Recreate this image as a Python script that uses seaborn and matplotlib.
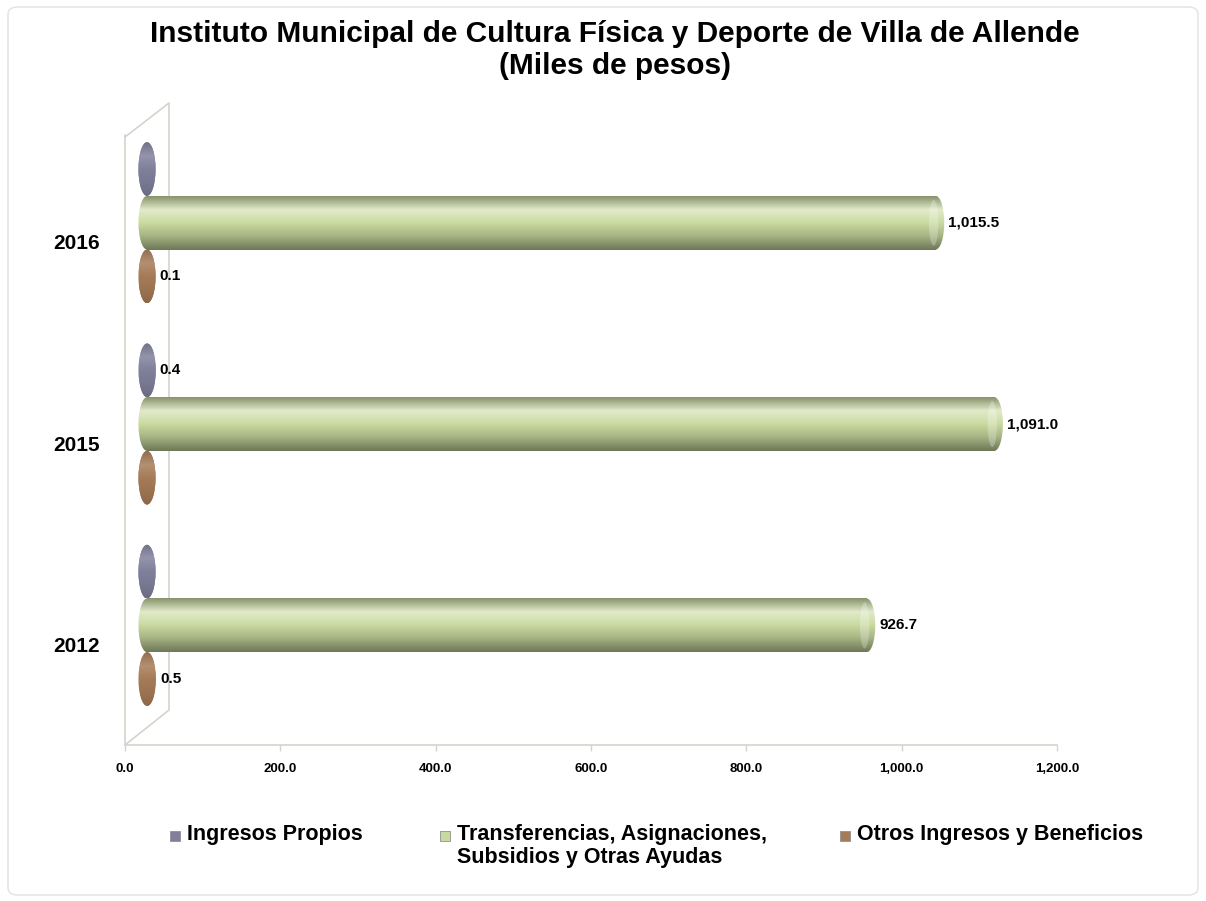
import numpy as np
import pandas as pd
import matplotlib
matplotlib.use('Agg')
import matplotlib.pyplot as plt
import seaborn as sns
from matplotlib.patches import Ellipse, Rectangle, FancyBboxPatch
from matplotlib.lines import Line2D
from matplotlib.colors import LinearSegmentedColormap, to_rgb

# Data
years = ['2016', '2015', '2012']
series = ['Ingresos Propios',
          'Transferencias, Asignaciones,\nSubsidios y Otras Ayudas',
          'Otros Ingresos y Beneficios']
ingresos_propios = [0.0, 0.4, 0.0]
transferencias = [1015.5, 1091.0, 926.7]
otros_ingresos = [0.1, 0.0, 0.5]
x_ticks = [0, 200, 400, 600, 800, 1000, 1200]
title = 'Instituto Municipal de Cultura Física y Deporte de Villa de Allende\n(Miles de pesos)'

colors = ['#80809c', '#c9da9f', '#a67b57']

W, H = 1206, 901
PX_PER_UNIT = 932 / 1200


def fx(px):
    return px / W


def fy(py):
    return 1 - py / H


def shade_cmap(color, strength=1.0):
    c = np.array(to_rgb(color))
    light = np.clip(c + (1 - c) * 0.45 * strength, 0, 1)
    d1 = c * (1 - 0.32 * strength)
    d2 = c * (1 - 0.18 * strength)
    d3 = c * (1 - 0.45 * strength)
    return LinearSegmentedColormap.from_list('cyl', [d1, light, c, d2, d3])


def build_frame():
    rows = []
    for name, vals in zip(series, [ingresos_propios, transferencias, otros_ingresos]):
        for yr, v in zip(years, vals):
            rows.append({'year': yr, 'serie': name, 'valor': v})
    return pd.DataFrame(rows)


def draw_cylinders(ax, df):
    sns.barplot(data=df, y='year', x='valor', hue='serie', order=years,
                hue_order=series, palette=colors, orient='h', width=0.8,
                saturation=1, legend=False, ax=ax)
    grad = np.linspace(0, 1, 64).reshape(-1, 1)
    cw = 22  # cap width in data units
    for container, color, vals in zip(ax.containers, colors,
                                      [ingresos_propios, transferencias, otros_ingresos]):
        strength = 1.0 if max(vals) > 10 else 0.35
        cmap = shade_cmap(color, strength)
        for bar, v in zip(container, vals):
            x0, y0 = bar.get_x(), bar.get_y()
            w, h = bar.get_width(), bar.get_height()
            bar.set_visible(False)
            if w > 1:
                ax.imshow(grad, cmap=cmap, aspect='auto', zorder=2,
                          extent=(x0, x0 + w, y0 + h, y0), interpolation='bilinear')
            for xc in (x0, x0 + w):
                ell = Ellipse((xc, y0 + h / 2), cw, h, facecolor='none',
                              edgecolor='none')
                ax.add_patch(ell)
                im = ax.imshow(grad, cmap=cmap, aspect='auto', zorder=3,
                               extent=(xc - cw / 2, xc + cw / 2, y0 + h, y0),
                               interpolation='bilinear')
                im.set_clip_path(ell)
            if w > 1:
                face = Ellipse((x0 + w - cw * 0.12, y0 + h / 2), cw * 0.55, h * 0.86,
                               facecolor='white', alpha=0.25, edgecolor='none', zorder=4)
                ax.add_patch(face)
            if v > 0:
                ax.annotate(f'{v:,.1f}', xy=(x0 + w, y0 + h / 2), xytext=(9, 0),
                            textcoords='offset points', va='center', ha='left',
                            fontsize=11, fontweight='bold', zorder=5)


def main():
    sns.set_style('white')
    plt.rcParams['font.family'] = ['Liberation Sans', 'DejaVu Sans']
    plt.rcParams['text.color'] = 'black'
    plt.rcParams['xtick.color'] = 'black'
    plt.rcParams['ytick.color'] = 'black'

    df = build_frame()
    fig = plt.figure(figsize=(W / 100, H / 100), dpi=100)
    fig.patch.set_facecolor('white')

    # front axes: ticks and frame; back axes: bars shifted for depth
    ax1 = fig.add_axes([fx(125), fy(745), fx(932), 610 / H])
    x_pad = 20
    ax2 = fig.add_axes([fx(147 - x_pad * PX_PER_UNIT), fy(726),
                        fx(932 + x_pad * PX_PER_UNIT), 610 / H])
    ax1.set_xlim(0, 1200)
    ax2.set_xlim(-x_pad, 1200)
    for ax in (ax1, ax2):
        ax.set_facecolor('none')

    draw_cylinders(ax2, df)
    ax2.set_xlim(-x_pad, 1200)
    for ax in (ax1, ax2):
        ax.set_ylim(2.5, -0.53)
    ax2.axis('off')

    ax1.set_xticks(x_ticks)
    ax1.set_xticklabels([f'{t:,.1f}' for t in x_ticks], fontsize=9.5, fontweight='bold')
    ax1.set_yticks(range(len(years)))
    ax1.set_yticklabels(years, fontsize=15, fontweight='bold')
    ax1.tick_params(axis='x', length=4, width=1, color='#d4d4d4', pad=9, bottom=True)
    ax1.tick_params(axis='y', length=0, pad=18)
    for side in ('top', 'right'):
        ax1.spines[side].set_visible(False)
    for side in ('left', 'bottom'):
        ax1.spines[side].set_color('#d4d4cc')
        ax1.spines[side].set_linewidth(1.2)
    ax1.set_xlabel('')
    ax1.set_ylabel('')

    # back wall of the 3D frame
    wall_x = [125, 169, 169, 125]
    wall_y = [137, 103, 710, 745]
    fig.add_artist(Line2D([fx(x) for x in wall_x], [fy(y) for y in wall_y],
                          transform=fig.transFigure, color='#d4d4cc', lw=1.2, zorder=-1))

    fig.text(fx(615), fy(50), title, ha='center', va='center', fontsize=21.5,
             fontweight='bold', linespacing=1.2)

    # legend
    leg_marker_x = [175, 445, 845]
    for mx, color, name in zip(leg_marker_x, colors, series):
        fig.add_artist(Rectangle((fx(mx - 5), fy(841)), fx(10), 10 / H,
                                 transform=fig.transFigure, facecolor=color,
                                 edgecolor='#909090', lw=0.6))
        fig.text(fx(mx + 12), fy(824), name, ha='left', va='top', fontsize=15.5,
                 fontweight='bold', linespacing=1.12)

    fig.add_artist(FancyBboxPatch((fx(8), fy(895)), fx(1190), 888 / H,
                                  boxstyle='round,pad=0,rounding_size=0.008',
                                  transform=fig.transFigure, facecolor='none',
                                  edgecolor='#e2e2e2', lw=1, zorder=-2))

    fig.savefig('out.png', dpi=100)


if __name__ == "__main__":
    main()
